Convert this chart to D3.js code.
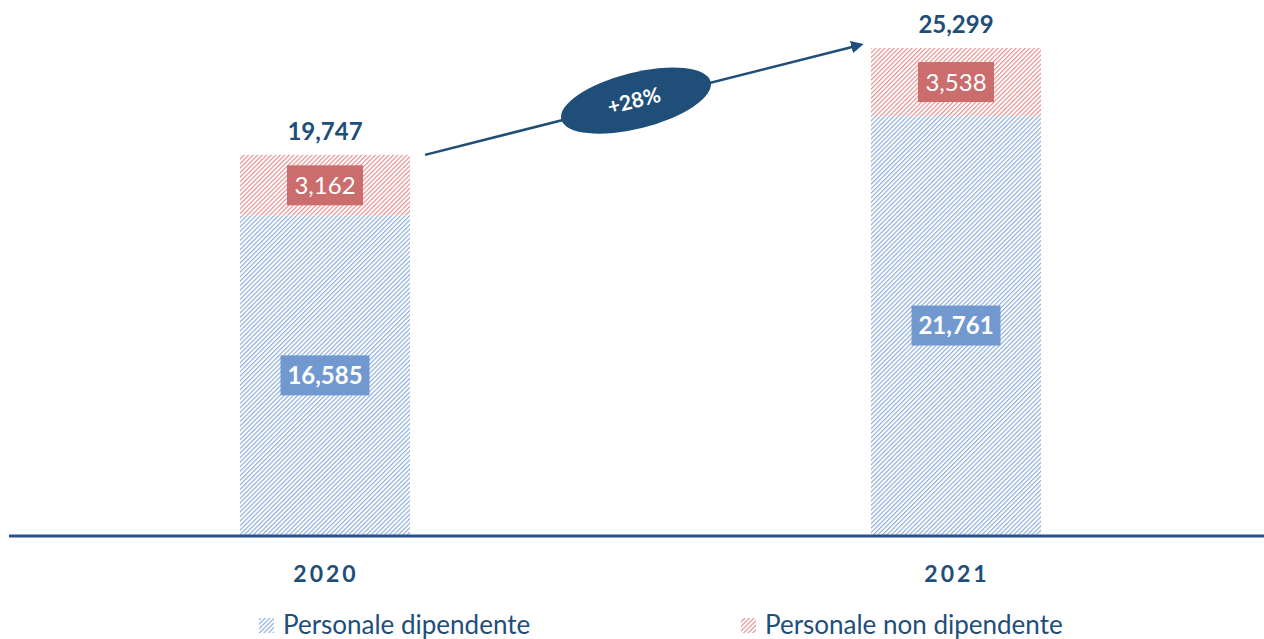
<!DOCTYPE html>
<html>
<head>
<meta charset="utf-8">
<script src="https://cdn.jsdelivr.net/npm/d3@7/dist/d3.min.js"></script>
<style>
  html, body { margin: 0; padding: 0; background: #ffffff; }
  svg { display: block; }
  text { font-family: Lato, "Open Sans", sans-serif; }
</style>
</head>
<body>
<svg id="chart" width="1264" height="639"></svg>
<script>
// Headcount by year, split into employees and non-employees
const years = ["2020", "2021"];
const dipendente = [16585, 21761];
const nonDipendente = [3162, 3538];
const totals = [19747, 25299];
const growthLabel = "+28%";
const seriesNames = ["Personale dipendente", "Personale non dipendente"];

const navy = "#1f4e79";
const svg = d3.select("#chart");

const barW = 170;
const x = d3.scalePoint().domain(years).range([325, 956]);
const y = d3.scaleLinear().domain([0, 25299]).range([535, 48]);

// hatch patterns
const defs = svg.append("defs");
function hatch(id, color) {
  const s = 3.2;
  const p = defs.append("pattern")
    .attr("id", id).attr("patternUnits", "userSpaceOnUse")
    .attr("width", s).attr("height", s)
    .attr("patternTransform", "rotate(45)");
  p.append("rect").attr("width", s).attr("height", s).attr("fill", "#ffffff");
  p.append("line").attr("x1", 0.6).attr("y1", 0).attr("x2", 0.6).attr("y2", s)
    .attr("stroke", color).attr("stroke-width", 1.0);
}
hatch("hBlue", "#7a9fd8");
hatch("hRed", "#e27d7d");

const stacks = years.map((yr, i) => ({
  year: yr,
  segs: [
    { key: "dip", v0: 0, v1: dipendente[i], val: dipendente[i] },
    { key: "non", v0: dipendente[i], v1: dipendente[i] + nonDipendente[i], val: nonDipendente[i] }
  ],
  total: totals[i]
}));

const fmt = d3.format(",");

const g = svg.append("g");
stacks.forEach(s => {
  const bx = x(s.year) - barW / 2;
  s.segs.forEach(seg => {
    g.append("rect")
      .attr("x", bx).attr("width", barW)
      .attr("y", y(seg.v1)).attr("height", y(seg.v0) - y(seg.v1))
      .attr("fill", seg.key === "dip" ? "url(#hBlue)" : "url(#hRed)");
  });
});

// value boxes inside segments
stacks.forEach(s => {
  const cx = x(s.year);
  s.segs.forEach(seg => {
    const cy = (y(seg.v0) + y(seg.v1)) / 2;
    const isDip = seg.key === "dip";
    const bwid = isDip ? 89 : 76;
    g.append("rect")
      .attr("x", cx - bwid / 2).attr("y", cy - 20)
      .attr("width", bwid).attr("height", 40)
      .attr("fill", isDip ? "#7199cf" : "#cb6d6d");
    g.append("text")
      .attr("x", cx).attr("y", cy + 8.5)
      .attr("text-anchor", "middle")
      .attr("fill", "#ffffff")
      .attr("font-size", 24)
      .attr("font-weight", isDip ? 700 : 400)
      .text(fmt(seg.val));
  });
  // total above bar
  g.append("text")
    .attr("x", cx).attr("y", y(s.total) - 15)
    .attr("text-anchor", "middle")
    .attr("fill", navy)
    .attr("font-size", 24)
    .attr("font-weight", 700)
    .text(fmt(s.total));
  // category label
  g.append("text")
    .attr("x", cx + 1).attr("y", 582)
    .attr("text-anchor", "middle")
    .attr("fill", navy)
    .attr("font-size", 23)
    .attr("font-weight", 700)
    .attr("letter-spacing", 3)
    .text(s.year);
});

// baseline axis
svg.append("line")
  .attr("x1", 9).attr("x2", 1264)
  .attr("y1", y(0) + 1).attr("y2", y(0) + 1)
  .attr("stroke", "#2b5286").attr("stroke-width", 3);

// growth arrow
const ax0 = x(years[0]) + barW / 2 + 15, ay0 = y(totals[0]);
const ax1 = x(years[1]) - barW / 2 - 11, ay1 = y(totals[1]) - 3;
defs.append("marker")
  .attr("id", "arrowHead").attr("viewBox", "0 0 10 10")
  .attr("refX", 7).attr("refY", 5)
  .attr("markerWidth", 5).attr("markerHeight", 5)
  .attr("markerUnits", "strokeWidth")
  .attr("orient", "auto")
  .append("path").attr("d", "M0,0 L10,5 L0,10 Z").attr("fill", navy);
svg.append("line")
  .attr("x1", ax0).attr("y1", ay0).attr("x2", ax1).attr("y2", ay1)
  .attr("stroke", navy).attr("stroke-width", 2.5)
  .attr("marker-end", "url(#arrowHead)");

const angle = Math.atan2(ay1 - ay0, ax1 - ax0) * 180 / Math.PI;
const ex = 636, ey = ay0 + (ay1 - ay0) * (ex - ax0) / (ax1 - ax0) - 1;
const eg = svg.append("g").attr("transform", `translate(${ex},${ey}) rotate(${angle})`);
eg.append("ellipse").attr("rx", 77).attr("ry", 28).attr("fill", navy);
eg.append("text")
  .attr("x", -2).attr("y", 7)
  .attr("text-anchor", "middle")
  .attr("fill", "#ffffff")
  .attr("font-size", 21)
  .attr("font-weight", 700)
  .text(growthLabel);

// legend
const legendX = [259, 741];
const legendFills = ["url(#hBlue)", "url(#hRed)"];
seriesNames.forEach((name, i) => {
  svg.append("rect")
    .attr("x", legendX[i]).attr("y", 618)
    .attr("width", 15).attr("height", 15)
    .attr("fill", legendFills[i]);
  svg.append("text")
    .attr("x", legendX[i] + 24).attr("y", 634)
    .attr("fill", navy)
    .attr("font-size", 26)
    .text(name);
});
</script>
</body>
</html>
